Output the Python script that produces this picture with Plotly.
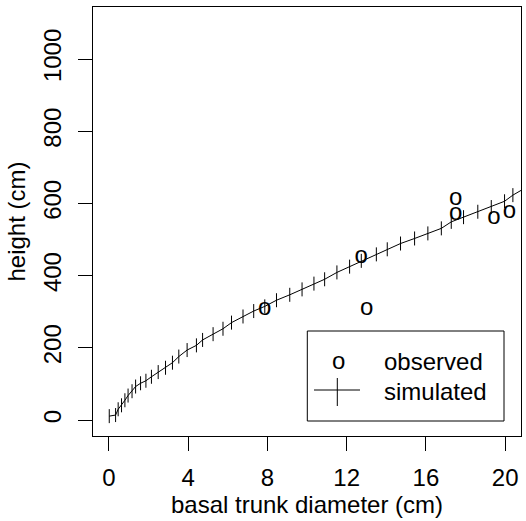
import plotly.graph_objects as go

# ---------------- data ----------------
obs_diameter = [7.87, 12.73, 13.01, 17.50, 17.50, 19.43, 20.22]
obs_height = [309, 452, 307, 612, 572, 561, 575]

sim_diameter = [0.02, 0.34, 0.47, 0.64, 0.81, 0.97, 1.17, 1.35, 1.60, 1.87,
                2.15, 2.49, 2.86, 3.21, 3.53, 3.95, 4.42, 4.73, 5.26, 5.76,
                6.19, 6.77, 7.31, 7.87, 8.46, 9.13, 9.75, 10.35, 10.89, 11.51,
                12.15, 12.74, 13.50, 14.05, 14.72, 15.43, 16.10, 16.78, 17.28, 17.90,
                18.62, 19.30, 19.97, 20.39, 21.08]
sim_height = [11, 14, 30, 41, 55, 68, 80, 93, 102, 109,
              120, 133, 145, 159, 176, 194, 207, 222, 238, 253,
              270, 287, 302, 315, 332, 347, 362, 378, 390, 409,
              425, 441, 459, 473, 489, 503, 517, 531, 549, 562,
              577, 590, 606, 623, 645]

x_ticks = [0, 4, 8, 12, 16, 20]
y_ticks = [0, 200, 400, 600, 800, 1000]
x_title = "basal trunk diameter (cm)"
y_title = "height (cm)"
legend_labels = ["observed", "simulated"]

# ---------------- layout geometry ----------------
W, H = 526, 521
ML, MR, MT, MB = 93, 5, 7, 85
PW, PH = W - ML - MR, H - MT - MB
FONT = "Liberation Sans, Arial, Helvetica, sans-serif"
FS = 24


def px(x):
    return (x - ML) / PW


def py(y):
    return (H - MB - y) / PH


fig = go.Figure()

fig.add_trace(go.Scatter(
    x=sim_diameter, y=sim_height, mode="lines+markers",
    line=dict(color="black", width=1),
    marker=dict(symbol="line-ns", size=10, line=dict(color="black", width=1)),
    showlegend=False, cliponaxis=True, name=legend_labels[1]))

fig.add_trace(go.Scatter(
    x=obs_diameter, y=obs_height, mode="text", text=["o"] * len(obs_diameter),
    textposition="middle center",
    textfont=dict(family=FONT, size=FS, color="black"),
    showlegend=False, cliponaxis=True, name=legend_labels[0]))

axis_common = dict(
    showline=True, mirror=True, linecolor="black", linewidth=1,
    ticks="outside", ticklen=14, tickwidth=1, tickcolor="black",
    showgrid=False, zeroline=False, automargin=False,
    tickfont=dict(family=FONT, size=FS, color="black"),
    title_font=dict(family=FONT, size=FS, color="black"),
)

fig.update_xaxes(range=[-0.8, 20.8], tickvals=x_ticks,
                 ticktext=[str(v) for v in x_ticks], ticklabelstandoff=6,
                 title_text=x_title, title_standoff=4, **axis_common)
fig.update_yaxes(range=[-44, 1144], tickvals=y_ticks,
                 ticktext=[str(v) for v in y_ticks], tickangle=-90,
                 ticklabelstandoff=7,
                 title_text=y_title, title_standoff=7, **axis_common)

# ---------------- hand-drawn legend (R style) ----------------
shapes = [
    dict(type="rect", xref="paper", yref="paper",
         x0=px(307.3), x1=px(504), y0=py(421), y1=py(331),
         line=dict(color="black", width=1), fillcolor="white", layer="above"),
    dict(type="line", xref="paper", yref="paper",
         x0=px(314), x1=px(360), y0=py(390), y1=py(390),
         line=dict(color="black", width=1)),
    dict(type="line", xref="paper", yref="paper",
         x0=px(337.3), x1=px(337.3), y0=py(378), y1=py(406),
         line=dict(color="black", width=1)),
]
annotations = [
    dict(xref="paper", yref="paper", x=px(338.3), y=py(360), text="o",
         showarrow=False, xanchor="center", yanchor="middle",
         font=dict(family=FONT, size=FS, color="black")),
    dict(xref="paper", yref="paper", x=px(381.5), y=py(361.7),
         text=legend_labels[0], showarrow=False, xanchor="left", yanchor="middle",
         font=dict(family=FONT, size=FS, color="black")),
    dict(xref="paper", yref="paper", x=px(381.5), y=py(391),
         text=legend_labels[1], showarrow=False, xanchor="left", yanchor="middle",
         font=dict(family=FONT, size=FS, color="black")),
]

fig.update_layout(
    width=W, height=H, autosize=False,
    margin=dict(l=ML, r=MR, t=MT, b=MB, pad=0, autoexpand=False),
    paper_bgcolor="white", plot_bgcolor="white",
    shapes=shapes, annotations=annotations,
    font=dict(family=FONT, size=FS, color="black"),
)

fig.write_html(
    "out.html", config={"displayModeBar": False},
    post_script="document.body.style.margin='0';document.body.style.overflow='hidden';",
)
